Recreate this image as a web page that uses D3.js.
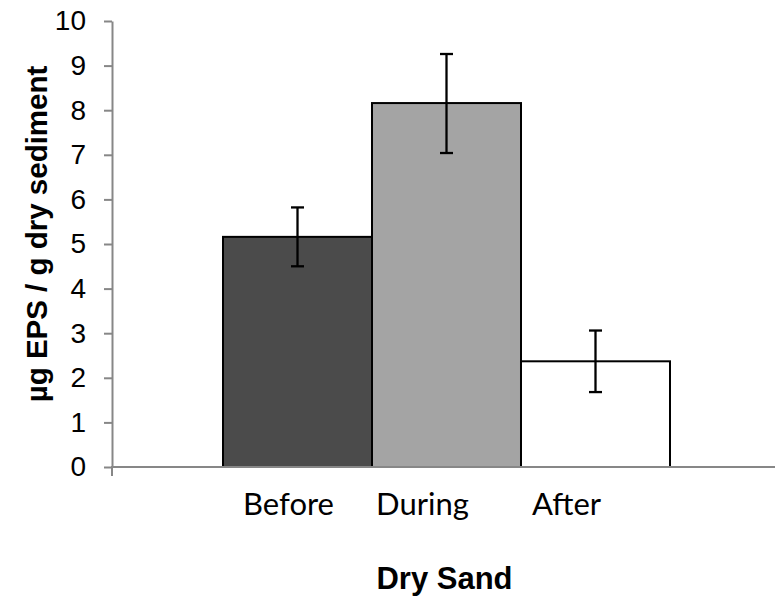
<!DOCTYPE html>
<html>
<head>
<meta charset="utf-8">
<script src="https://cdnjs.cloudflare.com/ajax/libs/d3/7.8.5/d3.min.js"></script>
<style>
  body { margin: 0; background: #fff; }
  svg { display: block; }
</style>
</head>
<body>
<div id="chart"></div>
<script>
// data
var series = ["Before", "During", "After"];
var values = [5.16, 8.16, 2.37];
var errLow = [4.50, 7.04, 1.68];
var errHigh = [5.82, 9.26, 3.06];
var yTicks = [0, 1, 2, 3, 4, 5, 6, 7, 8, 9, 10];
var yTitle = "µg EPS / g dry sediment";
var xTitle = "Dry Sand";

var width = 775, height = 601;
var plotLeft = 112, plotRight = 781, plotTop = 21, plotBottom = 467;
var fills = ["#4b4b4b", "#a4a4a4", "#ffffff"];
var labelShift = [-9, -24, -29];

var svg = d3.select("#chart")
    .append("svg")
    .attr("width", width)
    .attr("height", height);

var yScale = d3.scaleLinear()
    .domain([0, 10])
    .range([plotBottom, plotTop]);

var xScale = d3.scaleBand()
    .domain(series)
    .range([plotLeft, plotRight])
    .paddingInner(0)
    .paddingOuter(0.745);

// y axis
var yAxis = d3.axisLeft(yScale)
    .tickValues(yTicks)
    .tickSize(8)
    .tickSizeOuter(0)
    .tickPadding(18)
    .tickFormat(d3.format("d"));

var gy = svg.append("g")
    .attr("transform", "translate(" + plotLeft + ",0)")
    .call(yAxis);
gy.select(".domain").attr("stroke", "#878787").attr("stroke-width", 2);
gy.selectAll(".tick line").attr("stroke", "#878787").attr("stroke-width", 2);
gy.selectAll("text")
    .attr("fill", "#000")
    .attr("font-family", "'Liberation Sans', Arial, sans-serif")
    .attr("font-size", 28);

// bars
svg.append("g")
    .selectAll("rect")
    .data(series)
    .enter()
    .append("rect")
    .attr("x", d => xScale(d))
    .attr("y", (d, i) => yScale(values[i]))
    .attr("width", xScale.bandwidth())
    .attr("height", (d, i) => yScale(0) - yScale(values[i]))
    .attr("fill", (d, i) => fills[i])
    .attr("stroke", "#000")
    .attr("stroke-width", 2);

// x axis (single category spanning the plot)
svg.append("line")
    .attr("x1", plotLeft - 1)
    .attr("x2", plotRight)
    .attr("y1", yScale(0))
    .attr("y2", yScale(0))
    .attr("stroke", "#878787")
    .attr("stroke-width", 2);
svg.append("line")
    .attr("x1", plotLeft)
    .attr("x2", plotLeft)
    .attr("y1", yScale(0))
    .attr("y2", yScale(0) + 9)
    .attr("stroke", "#878787")
    .attr("stroke-width", 2);

// error bars
var cap = 6.5;
var eb = svg.append("g")
    .selectAll("g")
    .data(series)
    .enter()
    .append("g")
    .attr("stroke", "#000")
    .attr("stroke-width", 2.3);
eb.append("line")
    .attr("x1", d => xScale(d) + xScale.bandwidth() / 2)
    .attr("x2", d => xScale(d) + xScale.bandwidth() / 2)
    .attr("y1", (d, i) => yScale(errLow[i]))
    .attr("y2", (d, i) => yScale(errHigh[i]));
eb.append("line")
    .attr("x1", d => xScale(d) + xScale.bandwidth() / 2 - cap)
    .attr("x2", d => xScale(d) + xScale.bandwidth() / 2 + cap)
    .attr("y1", (d, i) => yScale(errHigh[i]))
    .attr("y2", (d, i) => yScale(errHigh[i]));
eb.append("line")
    .attr("x1", d => xScale(d) + xScale.bandwidth() / 2 - cap)
    .attr("x2", d => xScale(d) + xScale.bandwidth() / 2 + cap)
    .attr("y1", (d, i) => yScale(errLow[i]))
    .attr("y2", (d, i) => yScale(errLow[i]));

// series labels under the bars
svg.append("g")
    .selectAll("text")
    .data(series)
    .enter()
    .append("text")
    .attr("x", (d, i) => xScale(d) + xScale.bandwidth() / 2 + labelShift[i])
    .attr("y", 515)
    .attr("text-anchor", "middle")
    .attr("font-family", "Lato, 'Open Sans', sans-serif")
    .attr("font-size", 31)
    .attr("fill", "#000")
    .text(d => d);

// x title
svg.append("text")
    .attr("x", (plotLeft + plotRight) / 2 - 2)
    .attr("y", 589)
    .attr("text-anchor", "middle")
    .attr("font-family", "'Liberation Sans', Arial, sans-serif")
    .attr("font-weight", "bold")
    .attr("font-size", 31)
    .attr("fill", "#000")
    .text(xTitle);

// y title
svg.append("text")
    .attr("transform", "translate(47," + ((plotTop + plotBottom) / 2 - 10) + ") rotate(-90)")
    .attr("text-anchor", "middle")
    .attr("font-family", "'Liberation Sans', Arial, sans-serif")
    .attr("font-weight", "bold")
    .attr("font-size", 29.5)
    .attr("fill", "#000")
    .text(yTitle);
</script>
</body>
</html>
